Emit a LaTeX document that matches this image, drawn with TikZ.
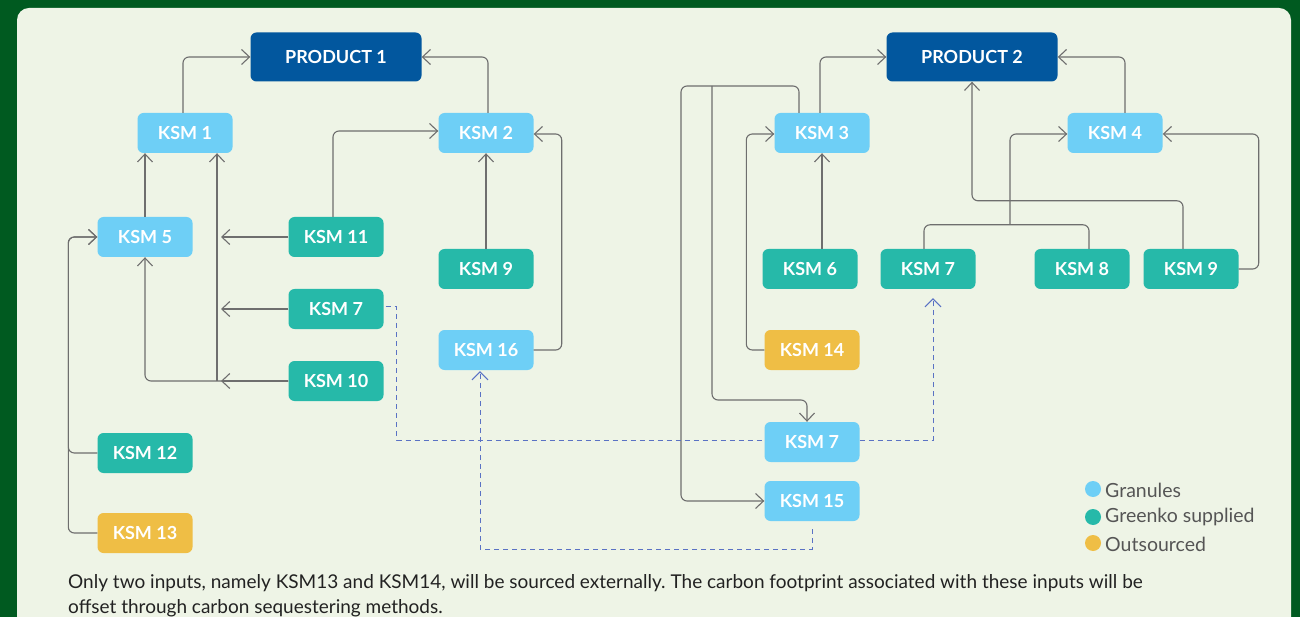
\documentclass[tikz,border=0pt]{standalone}
\usepackage{fontspec}
\setmainfont{Lato}
\frenchspacing
\usetikzlibrary{arrows.meta,calc}
\definecolor{outgreen}{HTML}{005A20}
\definecolor{panel}{HTML}{EEF4E6}
\definecolor{dblue}{HTML}{02579E}
\definecolor{lblue}{HTML}{6ECFF6}
\definecolor{teal}{HTML}{26B9A9}
\definecolor{yel}{HTML}{EFBE45}
\definecolor{linec}{HTML}{6E6E6E}
\definecolor{dashc}{HTML}{5A72C4}
\definecolor{txtc}{HTML}{222222}
\definecolor{legc}{HTML}{555555}
\tikzset{
  box/.style={rounded corners=6pt, minimum width=95pt, minimum height=40pt, inner sep=0pt,
    text=white, font=\fontsize{18}{20}\selectfont\bfseries},
  gran/.style={box, fill=lblue},
  green/.style={box, fill=teal},
  outs/.style={box, fill=yel},
  prod/.style={box, fill=dblue, minimum width=171pt, minimum height=49pt},
  conn/.style={draw=linec, line width=1.1pt, rounded corners=6pt,
    -{Straight Barb[length=8pt,width=15pt,line width=1.1pt]}},
  plain/.style={draw=linec, line width=1.1pt, rounded corners=6pt},
  dsh/.style={draw=dashc, line width=1pt, dash pattern=on 5pt off 4pt},
  dsharr/.style={dsh, -{Straight Barb[length=8pt,width=16pt,line width=1pt]}},
  legdot/.style={circle, fill=#1, minimum size=16pt, inner sep=0pt},
  legtxt/.style={anchor=west, text=legc, font=\fontsize{19.5}{22}\selectfont, inner sep=0pt}
}
\begin{document}
\begin{tikzpicture}[x=1pt,y=-1pt]
\useasboundingbox (0,0) rectangle (1300,617);
\fill[outgreen] (0,0) rectangle (1300,617);
\fill[panel, rounded corners=12pt] (17,8) rectangle (1291,660);

% left nodes
\node[prod] (p1) at (336,57) {PRODUCT 1};
\node[gran] (k1) at (185,133) {KSM 1};
\node[gran] (k2) at (486,133) {KSM 2};
\node[gran] (k5) at (145,237) {KSM 5};
\node[green] (k11) at (336,237) {KSM 11};
\node[green] (k9a) at (486,269) {KSM 9};
\node[green] (k7a) at (336,309) {KSM 7};
\node[green] (k10) at (336,381) {KSM 10};
\node[gran] (k16) at (486,350) {KSM 16};
\node[green] (k12) at (145,453) {KSM 12};
\node[outs] (k13) at (145,533) {KSM 13};

% right nodes
\node[prod] (p2) at (972,57) {PRODUCT 2};
\node[gran] (k3) at (822,133) {KSM 3};
\node[gran] (k4) at (1115,133) {KSM 4};
\node[green] (k6) at (810,269) {KSM 6};
\node[green] (k7b) at (928,269) {KSM 7};
\node[green] (k8) at (1082,269) {KSM 8};
\node[green] (k9b) at (1191,269) {KSM 9};
\node[outs] (k14) at (812,350) {KSM 14};
\node[gran] (k7c) at (812,442) {KSM 7};
\node[gran] (k15) at (812,501) {KSM 15};

% helper coordinates
\coordinate (bus) at (217,381);
\coordinate (busT) at (221,381);
\coordinate (ta) at (681,86);
\coordinate (tb) at (712,86);
\coordinate (tc) at (712,400);
\coordinate (tj) at (1010,225);

% left connectors
\draw[conn] ([xshift=-2pt]k1.north) |- (p1.west);
\draw[conn] ([xshift=2pt]k2.north) |- (p1.east);
\draw[conn] ([xshift=-3pt]k11.north) |- ([yshift=2pt]k2.west);
\draw[conn] (k9a.north) -- (k2.south);
\draw[conn] (k16.east) -- ++(28,0) |- ([yshift=-1pt]k2.east);
\draw[conn] ([xshift=-40pt]k1.south |- k5.north) -- ([xshift=-40pt]k1.south);
\draw[conn] (k10.west) -| (k5.south);
\draw[conn] (bus) -- (bus |- k1.south);
\draw[conn] (k11.west) -- (k11.west -| busT);
\draw[conn] (k7a.west) -- (k7a.west -| busT);
\draw[conn] (k10.west) -- (busT);
\draw[conn] (k12.west) -- ++(-29,0) |- (k5.west);
\draw[conn] (k13.west) -- ++(-29,0) |- (k5.west);

% right connectors
\draw[conn] ([xshift=-2pt]k3.north) |- (p2.west);
\draw[conn] ([xshift=10pt]k4.north) |- (p2.east);
\draw[conn] (k3.south |- k6.north) -- (k3.south);
\draw[conn] (k14.west) -- ++(-18,0) |- ([yshift=-1pt]k3.west);
\draw[conn] ([xshift=-23pt]k3.north) |- (ta) |- (k15.west);
\draw[conn] (tb) -- (tc) -| ([xshift=-5pt]k7c.north);
\draw[conn] ([xshift=-8pt]k9b.north) -- ++(0,-48) -| (p2.south);
\draw[plain] ([xshift=-4pt]k7b.north) -- ++(0,-24) -| ([xshift=7pt]k8.north);
\draw[conn] (tj) |- ([yshift=-1pt]k4.west);
\draw[conn] (k9b.east) -- ++(20,0) |- ([yshift=-1pt]k4.east);

% dashed connectors
\draw[dsh] ([xshift=2pt,yshift=2pt]k7a.east) -- ++(11,0) |- ([yshift=2pt]k7c.west);
\draw[dsharr] ([yshift=2pt]k7c.east) -| ([xshift=5pt,yshift=-9pt]k7b.south);
\draw[dsharr] ([yshift=-8pt]k15.south) -- ++(0,20) -| ([xshift=-6pt,yshift=-1pt]k16.south);

% legend
\node[legdot=lblue] (d1) at (1093,489) {};
\node[legdot=teal] (d2) at (1093,517) {};
\node[legdot=yel] (d3) at (1093,543) {};
\node[legtxt] (l1) at (1105,490) {Granules};
\node[legtxt] (l2) at (1105,517) {Greenko supplied};
\node[legtxt] (l3) at (1105,544) {Outsourced};

% bottom text
\node[anchor=base west, inner sep=0pt, text=txtc, font=\fontsize{19}{22}\selectfont] (t1) at (68,588)
  {Only two inputs, namely KSM13 and KSM14, will be sourced externally. The carbon footprint associated with these inputs will be};
\node[anchor=base west, inner sep=0pt, text=txtc, font=\fontsize{19}{22}\selectfont] (t2) at (68,613)
  {offset through carbon sequestering methods.};
\end{tikzpicture}
\end{document}
